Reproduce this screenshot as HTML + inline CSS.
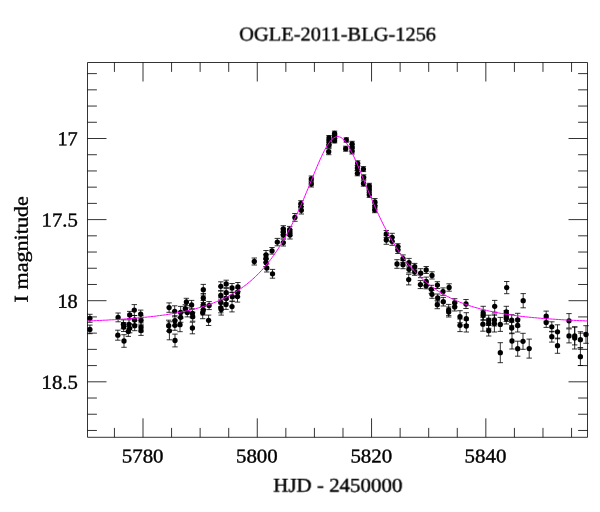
<!DOCTYPE html>
<html><head><meta charset="utf-8"><title>OGLE-2011-BLG-1256</title>
<style>html,body{margin:0;padding:0;background:#fff;overflow:hidden}body{width:600px;height:512px;font-family:"Liberation Serif",serif}</style>
</head><body>
<svg width="600" height="512" viewBox="0 0 600 512" style="display:block">
<rect x="0" y="0" width="600" height="512" fill="#fff"/>
<g stroke="#000" stroke-width="0.8" fill="none" stroke-linecap="butt">
<path d="M87.50 62.50H587.50V437.30H87.50Z"/>
<path d="M114.43 62.50v9.40M114.43 437.30v-9.40M143.00 62.50v19.00M143.00 437.30v-19.00M171.57 62.50v9.40M171.57 437.30v-9.40M200.14 62.50v9.40M200.14 437.30v-9.40M228.71 62.50v9.40M228.71 437.30v-9.40M257.28 62.50v19.00M257.28 437.30v-19.00M285.85 62.50v9.40M285.85 437.30v-9.40M314.42 62.50v9.40M314.42 437.30v-9.40M342.99 62.50v9.40M342.99 437.30v-9.40M371.56 62.50v19.00M371.56 437.30v-19.00M400.13 62.50v9.40M400.13 437.30v-9.40M428.70 62.50v9.40M428.70 437.30v-9.40M457.27 62.50v9.40M457.27 437.30v-9.40M485.84 62.50v19.00M485.84 437.30v-19.00M514.41 62.50v9.40M514.41 437.30v-9.40M542.98 62.50v9.40M542.98 437.30v-9.40M571.55 62.50v9.40M571.55 437.30v-9.40M87.50 73.62h9.40M587.50 73.62h-9.40M87.50 89.84h9.40M587.50 89.84h-9.40M87.50 106.06h9.40M587.50 106.06h-9.40M87.50 122.28h9.40M587.50 122.28h-9.40M87.50 138.50h19.00M587.50 138.50h-19.00M87.50 154.72h9.40M587.50 154.72h-9.40M87.50 170.94h9.40M587.50 170.94h-9.40M87.50 187.16h9.40M587.50 187.16h-9.40M87.50 203.38h9.40M587.50 203.38h-9.40M87.50 219.60h19.00M587.50 219.60h-19.00M87.50 235.82h9.40M587.50 235.82h-9.40M87.50 252.04h9.40M587.50 252.04h-9.40M87.50 268.26h9.40M587.50 268.26h-9.40M87.50 284.48h9.40M587.50 284.48h-9.40M87.50 300.70h19.00M587.50 300.70h-19.00M87.50 316.92h9.40M587.50 316.92h-9.40M87.50 333.14h9.40M587.50 333.14h-9.40M87.50 349.36h9.40M587.50 349.36h-9.40M87.50 365.58h9.40M587.50 365.58h-9.40M87.50 381.80h19.00M587.50 381.80h-19.00M87.50 398.02h9.40M587.50 398.02h-9.40M87.50 414.24h9.40M587.50 414.24h-9.40M87.50 430.46h9.40M587.50 430.46h-9.40"/>
</g>
<path d="M89.9 314.3V322.3M87.2 314.3h5.4M87.2 322.3h5.4M89.9 325.1V333.7M87.2 325.1h5.4M87.2 333.7h5.4M118.1 313.0V321.8M115.4 313.0h5.4M115.4 321.8h5.4M117.8 330.2V340.2M115.1 330.2h5.4M115.1 340.2h5.4M124.0 334.7V347.3M121.3 334.7h5.4M121.3 347.3h5.4M123.4 319.8V328.8M120.7 319.8h5.4M120.7 328.8h5.4M123.7 322.5V331.5M121.0 322.5h5.4M121.0 331.5h5.4M129.7 311.4V318.6M127.0 311.4h5.4M127.0 318.6h5.4M129.0 319.8V328.8M126.3 319.8h5.4M126.3 328.8h5.4M129.7 323.8V332.8M127.0 323.8h5.4M127.0 332.8h5.4M128.3 326.4V336.4M125.6 326.4h5.4M125.6 336.4h5.4M134.3 304.6V315.6M131.6 304.6h5.4M131.6 315.6h5.4M134.6 315.5V324.5M131.9 315.5h5.4M131.9 324.5h5.4M134.7 320.7V330.7M132.0 320.7h5.4M132.0 330.7h5.4M140.7 310.1V318.1M138.0 310.1h5.4M138.0 318.1h5.4M141.0 315.8V324.8M138.3 315.8h5.4M138.3 324.8h5.4M141.0 322.9V331.9M138.3 322.9h5.4M138.3 331.9h5.4M141.0 325.8V335.4M138.3 325.8h5.4M138.3 335.4h5.4M169.1 302.9V312.3M166.4 302.9h5.4M166.4 312.3h5.4M168.7 320.2V331.2M166.0 320.2h5.4M166.0 331.2h5.4M169.4 321.8V339.8M166.7 321.8h5.4M166.7 339.8h5.4M175.0 334.1V346.9M172.3 334.1h5.4M172.3 346.9h5.4M174.7 305.8V316.8M172.0 305.8h5.4M172.0 316.8h5.4M174.9 315.7V325.7M172.2 315.7h5.4M172.2 325.7h5.4M174.9 320.3V330.3M172.2 320.3h5.4M172.2 330.3h5.4M180.7 306.4V318.4M178.0 306.4h5.4M178.0 318.4h5.4M180.7 312.3V322.3M178.0 312.3h5.4M178.0 322.3h5.4M180.0 317.7V331.7M177.3 317.7h5.4M177.3 331.7h5.4M186.4 298.3V305.7M183.7 298.3h5.4M183.7 305.7h5.4M185.3 304.7V312.7M182.6 304.7h5.4M182.6 312.7h5.4M187.3 307.9V316.9M184.6 307.9h5.4M184.6 316.9h5.4M191.6 300.4V309.4M188.9 300.4h5.4M188.9 309.4h5.4M192.4 308.8V317.8M189.7 308.8h5.4M189.7 317.8h5.4M192.7 312.2V321.2M190.0 312.2h5.4M190.0 321.2h5.4M192.4 322.2V333.8M189.7 322.2h5.4M189.7 333.8h5.4M203.3 284.4V295.0M200.6 284.4h5.4M200.6 295.0h5.4M203.3 293.5V302.5M200.6 293.5h5.4M200.6 302.5h5.4M203.3 300.5V309.5M200.6 300.5h5.4M200.6 309.5h5.4M203.3 305.0V315.0M200.6 305.0h5.4M200.6 315.0h5.4M202.7 306.7V318.7M200.0 306.7h5.4M200.0 318.7h5.4M209.1 301.6V309.6M206.4 301.6h5.4M206.4 309.6h5.4M208.6 315.1V325.5M205.9 315.1h5.4M205.9 325.5h5.4M220.8 281.8V290.8M218.1 281.8h5.4M218.1 290.8h5.4M220.8 290.9V299.9M218.1 290.9h5.4M218.1 299.9h5.4M220.8 297.8V306.8M218.1 297.8h5.4M218.1 306.8h5.4M220.8 302.8V312.8M218.1 302.8h5.4M218.1 312.8h5.4M221.2 304.1V315.1M218.5 304.1h5.4M218.5 315.1h5.4M226.2 280.2V287.6M223.5 280.2h5.4M223.5 287.6h5.4M226.2 288.6V296.6M223.5 288.6h5.4M223.5 296.6h5.4M226.2 294.0V303.0M223.5 294.0h5.4M223.5 303.0h5.4M226.0 299.4V309.4M223.3 299.4h5.4M223.3 309.4h5.4M232.0 283.5V292.5M229.3 283.5h5.4M229.3 292.5h5.4M232.3 292.2V301.2M229.6 292.2h5.4M229.6 301.2h5.4M232.0 301.3V311.9M229.3 301.3h5.4M229.3 311.9h5.4M237.9 282.5V291.5M235.2 282.5h5.4M235.2 291.5h5.4M237.6 288.0V297.0M234.9 288.0h5.4M234.9 297.0h5.4M237.5 291.1V302.1M234.8 291.1h5.4M234.8 302.1h5.4M254.3 258.0V265.0M251.6 258.0h5.4M251.6 265.0h5.4M266.0 250.5V259.5M263.3 250.5h5.4M263.3 259.5h5.4M266.0 254.5V262.5M263.3 254.5h5.4M263.3 262.5h5.4M266.0 258.5V266.5M263.3 258.5h5.4M263.3 266.5h5.4M266.8 264.0V272.0M264.1 264.0h5.4M264.1 272.0h5.4M272.0 247.5V254.1M269.3 247.5h5.4M269.3 254.1h5.4M272.5 269.4V278.2M269.8 269.4h5.4M269.8 278.2h5.4M277.3 238.4V245.8M274.6 238.4h5.4M274.6 245.8h5.4M283.3 239.2V246.0M280.6 239.2h5.4M280.6 246.0h5.4M283.3 225.7V232.3M280.6 225.7h5.4M280.6 232.3h5.4M283.3 228.7V234.7M280.6 228.7h5.4M280.6 234.7h5.4M283.3 232.0V238.0M280.6 232.0h5.4M280.6 238.0h5.4M289.7 226.4V233.0M287.0 226.4h5.4M287.0 233.0h5.4M289.8 229.5V235.5M287.1 229.5h5.4M287.1 235.5h5.4M290.0 231.0V239.0M287.3 231.0h5.4M287.3 239.0h5.4M294.9 213.5V221.3M292.2 213.5h5.4M292.2 221.3h5.4M300.9 200.7V206.7M298.2 200.7h5.4M298.2 206.7h5.4M300.9 204.0V210.0M298.2 204.0h5.4M298.2 210.0h5.4M301.3 206.6V214.0M298.6 206.6h5.4M298.6 214.0h5.4M311.3 176.0V182.0M308.6 176.0h5.4M308.6 182.0h5.4M311.3 181.0V187.0M308.6 181.0h5.4M308.6 187.0h5.4M329.0 135.5V140.5M326.3 135.5h5.4M326.3 140.5h5.4M329.0 139.5V144.5M326.3 139.5h5.4M326.3 144.5h5.4M329.0 142.8V147.8M326.3 142.8h5.4M326.3 147.8h5.4M328.7 148.7V154.7M326.0 148.7h5.4M326.0 154.7h5.4M334.6 131.1V135.5M331.9 131.1h5.4M331.9 135.5h5.4M334.6 134.5V138.9M331.9 134.5h5.4M331.9 138.9h5.4M334.6 138.5V142.9M331.9 138.5h5.4M331.9 142.9h5.4M346.3 137.8V142.2M343.6 137.8h5.4M343.6 142.2h5.4M345.7 146.2V151.2M343.0 146.2h5.4M343.0 151.2h5.4M352.1 141.3V146.7M349.4 141.3h5.4M349.4 146.7h5.4M352.1 144.6V150.0M349.4 144.6h5.4M349.4 150.0h5.4M352.1 148.6V154.0M349.4 148.6h5.4M349.4 154.0h5.4M357.7 160.8V165.8M355.0 160.8h5.4M355.0 165.8h5.4M357.4 165.5V170.5M354.7 165.5h5.4M354.7 170.5h5.4M357.4 170.8V175.8M354.7 170.8h5.4M354.7 175.8h5.4M363.4 166.6V171.6M360.7 166.6h5.4M360.7 171.6h5.4M363.7 174.8V179.8M361.0 174.8h5.4M361.0 179.8h5.4M363.5 180.8V186.2M360.8 180.8h5.4M360.8 186.2h5.4M369.3 183.3V188.7M366.6 183.3h5.4M366.6 188.7h5.4M369.3 187.3V192.7M366.6 187.3h5.4M366.6 192.7h5.4M369.3 192.0V197.4M366.6 192.0h5.4M366.6 197.4h5.4M374.9 198.5V205.5M372.2 198.5h5.4M372.2 205.5h5.4M374.9 203.0V209.0M372.2 203.0h5.4M372.2 209.0h5.4M374.7 207.3V212.7M372.0 207.3h5.4M372.0 212.7h5.4M386.3 230.5V237.5M383.6 230.5h5.4M383.6 237.5h5.4M386.3 235.7V244.3M383.6 235.7h5.4M383.6 244.3h5.4M392.1 233.3V241.3M389.4 233.3h5.4M389.4 241.3h5.4M392.1 237.3V245.3M389.4 237.3h5.4M389.4 245.3h5.4M397.9 243.7V249.7M395.2 243.7h5.4M395.2 249.7h5.4M397.9 246.5V253.5M395.2 246.5h5.4M395.2 253.5h5.4M397.0 259.7V268.3M394.3 259.7h5.4M394.3 268.3h5.4M403.0 254.9V262.5M400.3 254.9h5.4M400.3 262.5h5.4M403.0 260.7V268.7M400.3 260.7h5.4M400.3 268.7h5.4M409.0 258.4V267.0M406.3 258.4h5.4M406.3 267.0h5.4M409.0 265.8V272.8M406.3 265.8h5.4M406.3 272.8h5.4M408.7 274.3V284.9M406.0 274.3h5.4M406.0 284.9h5.4M414.7 263.4V270.0M412.0 263.4h5.4M412.0 270.0h5.4M414.7 268.7V275.3M412.0 268.7h5.4M412.0 275.3h5.4M420.7 268.7V277.7M418.0 268.7h5.4M418.0 277.7h5.4M426.2 266.5V273.5M423.5 266.5h5.4M423.5 273.5h5.4M432.0 271.8V279.0M429.3 271.8h5.4M429.3 279.0h5.4M420.4 280.6V288.6M417.7 280.6h5.4M417.7 288.6h5.4M426.2 277.1V285.5M423.5 277.1h5.4M423.5 285.5h5.4M426.1 282.8V288.8M423.4 282.8h5.4M423.4 288.8h5.4M437.4 281.7V288.5M434.7 281.7h5.4M434.7 288.5h5.4M431.3 285.3V293.3M428.6 285.3h5.4M428.6 293.3h5.4M432.0 290.3V298.3M429.3 290.3h5.4M429.3 298.3h5.4M449.1 283.8V291.2M446.4 283.8h5.4M446.4 291.2h5.4M443.0 287.9V295.3M440.3 287.9h5.4M440.3 295.3h5.4M437.7 294.0V302.0M435.0 294.0h5.4M435.0 302.0h5.4M437.3 300.7V308.7M434.6 300.7h5.4M434.6 308.7h5.4M443.3 297.4V306.0M440.6 297.4h5.4M440.6 306.0h5.4M454.7 298.7V306.7M452.0 298.7h5.4M452.0 306.7h5.4M454.7 303.0V311.0M452.0 303.0h5.4M452.0 311.0h5.4M448.7 304.4V315.6M446.0 304.4h5.4M446.0 315.6h5.4M448.7 307.0V317.0M446.0 307.0h5.4M446.0 317.0h5.4M466.0 299.5V308.5M463.3 299.5h5.4M463.3 308.5h5.4M460.0 310.7V322.7M457.3 310.7h5.4M457.3 322.7h5.4M460.0 319.0V331.6M457.3 319.0h5.4M457.3 331.6h5.4M466.3 312.7V324.7M463.6 312.7h5.4M463.6 324.7h5.4M466.3 320.0V332.0M463.6 320.0h5.4M463.6 332.0h5.4M483.2 306.3V319.7M480.5 306.3h5.4M480.5 319.7h5.4M483.2 310.3V320.3M480.5 310.3h5.4M480.5 320.3h5.4M482.9 317.2V331.2M480.2 317.2h5.4M480.2 331.2h5.4M488.7 315.2V325.2M486.0 315.2h5.4M486.0 325.2h5.4M488.7 318.3V328.3M486.0 318.3h5.4M486.0 328.3h5.4M488.7 325.4V336.0M486.0 325.4h5.4M486.0 336.0h5.4M494.7 300.4V312.2M492.0 300.4h5.4M492.0 312.2h5.4M494.4 314.0V326.0M491.7 314.0h5.4M491.7 326.0h5.4M494.4 315.2V332.0M491.7 315.2h5.4M491.7 332.0h5.4M500.3 317.4V331.4M497.6 317.4h5.4M497.6 331.4h5.4M500.3 342.7V362.7M497.6 342.7h5.4M497.6 362.7h5.4M506.7 281.5V293.7M504.0 281.5h5.4M504.0 293.7h5.4M506.3 306.3V317.7M503.6 306.3h5.4M503.6 317.7h5.4M506.3 310.5V321.5M503.6 310.5h5.4M503.6 321.5h5.4M506.3 313.4V324.0M503.6 313.4h5.4M503.6 324.0h5.4M511.7 314.7V325.7M509.0 314.7h5.4M509.0 325.7h5.4M511.7 322.3V333.7M509.0 322.3h5.4M509.0 333.7h5.4M512.0 333.0V349.0M509.3 333.0h5.4M509.3 349.0h5.4M517.7 313.3V326.7M515.0 313.3h5.4M515.0 326.7h5.4M517.7 319.0V332.0M515.0 319.0h5.4M515.0 332.0h5.4M517.7 341.2V356.2M515.0 341.2h5.4M515.0 356.2h5.4M523.2 293.6V307.8M520.5 293.6h5.4M520.5 307.8h5.4M523.0 333.3V349.3M520.3 333.3h5.4M520.3 349.3h5.4M529.2 339.1V358.1M526.5 339.1h5.4M526.5 358.1h5.4M546.2 311.1V321.1M543.5 311.1h5.4M543.5 321.1h5.4M546.2 317.8V327.4M543.5 317.8h5.4M543.5 327.4h5.4M551.8 321.8V331.8M549.1 321.8h5.4M549.1 331.8h5.4M551.8 331.3V342.1M549.1 331.3h5.4M549.1 342.1h5.4M557.5 324.8V338.8M554.8 324.8h5.4M554.8 338.8h5.4M557.5 338.1V353.3M554.8 338.1h5.4M554.8 353.3h5.4M569.0 313.6V328.0M566.3 313.6h5.4M566.3 328.0h5.4M569.0 328.9V342.9M566.3 328.9h5.4M566.3 342.9h5.4M574.7 326.9V344.9M572.0 326.9h5.4M572.0 344.9h5.4M574.7 327.0V349.0M572.0 327.0h5.4M572.0 349.0h5.4M580.4 331.7V347.7M577.7 331.7h5.4M577.7 347.7h5.4M580.4 347.9V365.5M577.7 347.9h5.4M577.7 365.5h5.4M586.0 325.7V343.3M583.3 325.7h5.4M583.3 343.3h5.4" stroke="#000" stroke-width="0.8" fill="none"/>
<g fill="#000">
<circle cx="89.9" cy="318.3" r="2.65"/>
<circle cx="89.9" cy="329.4" r="2.65"/>
<circle cx="118.1" cy="317.4" r="2.65"/>
<circle cx="117.8" cy="335.2" r="2.65"/>
<circle cx="124.0" cy="341.0" r="2.65"/>
<circle cx="123.4" cy="324.3" r="2.65"/>
<circle cx="123.7" cy="327.0" r="2.65"/>
<circle cx="129.7" cy="315.0" r="2.65"/>
<circle cx="129.0" cy="324.3" r="2.65"/>
<circle cx="129.7" cy="328.3" r="2.65"/>
<circle cx="128.3" cy="331.4" r="2.65"/>
<circle cx="134.3" cy="310.1" r="2.65"/>
<circle cx="134.6" cy="320.0" r="2.65"/>
<circle cx="134.7" cy="325.7" r="2.65"/>
<circle cx="140.7" cy="314.1" r="2.65"/>
<circle cx="141.0" cy="320.3" r="2.65"/>
<circle cx="141.0" cy="327.4" r="2.65"/>
<circle cx="141.0" cy="330.6" r="2.65"/>
<circle cx="169.1" cy="307.6" r="2.65"/>
<circle cx="168.7" cy="325.7" r="2.65"/>
<circle cx="169.4" cy="330.8" r="2.65"/>
<circle cx="175.0" cy="340.5" r="2.65"/>
<circle cx="174.7" cy="311.3" r="2.65"/>
<circle cx="174.9" cy="320.7" r="2.65"/>
<circle cx="174.9" cy="325.3" r="2.65"/>
<circle cx="180.7" cy="312.4" r="2.65"/>
<circle cx="180.7" cy="317.3" r="2.65"/>
<circle cx="180.0" cy="324.7" r="2.65"/>
<circle cx="186.4" cy="302.0" r="2.65"/>
<circle cx="185.3" cy="308.7" r="2.65"/>
<circle cx="187.3" cy="312.4" r="2.65"/>
<circle cx="191.6" cy="304.9" r="2.65"/>
<circle cx="192.4" cy="313.3" r="2.65"/>
<circle cx="192.7" cy="316.7" r="2.65"/>
<circle cx="192.4" cy="328.0" r="2.65"/>
<circle cx="203.3" cy="289.7" r="2.65"/>
<circle cx="203.3" cy="298.0" r="2.65"/>
<circle cx="203.3" cy="305.0" r="2.65"/>
<circle cx="203.3" cy="310.0" r="2.65"/>
<circle cx="202.7" cy="312.7" r="2.65"/>
<circle cx="209.1" cy="305.6" r="2.65"/>
<circle cx="208.6" cy="320.3" r="2.65"/>
<circle cx="220.8" cy="286.3" r="2.65"/>
<circle cx="220.8" cy="295.4" r="2.65"/>
<circle cx="220.8" cy="302.3" r="2.65"/>
<circle cx="220.8" cy="307.8" r="2.65"/>
<circle cx="221.2" cy="309.6" r="2.65"/>
<circle cx="226.2" cy="283.9" r="2.65"/>
<circle cx="226.2" cy="292.6" r="2.65"/>
<circle cx="226.2" cy="298.5" r="2.65"/>
<circle cx="226.0" cy="304.4" r="2.65"/>
<circle cx="232.0" cy="288.0" r="2.65"/>
<circle cx="232.3" cy="296.7" r="2.65"/>
<circle cx="232.0" cy="306.6" r="2.65"/>
<circle cx="237.9" cy="287.0" r="2.65"/>
<circle cx="237.6" cy="292.5" r="2.65"/>
<circle cx="237.5" cy="296.6" r="2.65"/>
<circle cx="254.3" cy="261.5" r="2.65"/>
<circle cx="266.0" cy="255.0" r="2.65"/>
<circle cx="266.0" cy="258.5" r="2.65"/>
<circle cx="266.0" cy="262.5" r="2.65"/>
<circle cx="266.8" cy="268.0" r="2.65"/>
<circle cx="272.0" cy="250.8" r="2.65"/>
<circle cx="272.5" cy="273.8" r="2.65"/>
<circle cx="277.3" cy="242.1" r="2.65"/>
<circle cx="283.3" cy="242.6" r="2.65"/>
<circle cx="283.3" cy="229.0" r="2.65"/>
<circle cx="283.3" cy="231.7" r="2.65"/>
<circle cx="283.3" cy="235.0" r="2.65"/>
<circle cx="289.7" cy="229.7" r="2.65"/>
<circle cx="289.8" cy="232.5" r="2.65"/>
<circle cx="290.0" cy="235.0" r="2.65"/>
<circle cx="294.9" cy="217.4" r="2.65"/>
<circle cx="300.9" cy="203.7" r="2.65"/>
<circle cx="300.9" cy="207.0" r="2.65"/>
<circle cx="301.3" cy="210.3" r="2.65"/>
<circle cx="311.3" cy="179.0" r="2.65"/>
<circle cx="311.3" cy="184.0" r="2.65"/>
<circle cx="329.0" cy="138.0" r="2.65"/>
<circle cx="329.0" cy="142.0" r="2.65"/>
<circle cx="329.0" cy="145.3" r="2.65"/>
<circle cx="328.7" cy="151.7" r="2.65"/>
<circle cx="334.6" cy="133.3" r="2.65"/>
<circle cx="334.6" cy="136.7" r="2.65"/>
<circle cx="334.6" cy="140.7" r="2.65"/>
<circle cx="346.3" cy="140.0" r="2.65"/>
<circle cx="345.7" cy="148.7" r="2.65"/>
<circle cx="352.1" cy="144.0" r="2.65"/>
<circle cx="352.1" cy="147.3" r="2.65"/>
<circle cx="352.1" cy="151.3" r="2.65"/>
<circle cx="357.7" cy="163.3" r="2.65"/>
<circle cx="357.4" cy="168.0" r="2.65"/>
<circle cx="357.4" cy="173.3" r="2.65"/>
<circle cx="363.4" cy="169.1" r="2.65"/>
<circle cx="363.7" cy="177.3" r="2.65"/>
<circle cx="363.5" cy="183.5" r="2.65"/>
<circle cx="369.3" cy="186.0" r="2.65"/>
<circle cx="369.3" cy="190.0" r="2.65"/>
<circle cx="369.3" cy="194.7" r="2.65"/>
<circle cx="374.9" cy="202.0" r="2.65"/>
<circle cx="374.9" cy="206.0" r="2.65"/>
<circle cx="374.7" cy="210.0" r="2.65"/>
<circle cx="386.3" cy="234.0" r="2.65"/>
<circle cx="386.3" cy="240.0" r="2.65"/>
<circle cx="392.1" cy="237.3" r="2.65"/>
<circle cx="392.1" cy="241.3" r="2.65"/>
<circle cx="397.9" cy="246.7" r="2.65"/>
<circle cx="397.9" cy="250.0" r="2.65"/>
<circle cx="397.0" cy="264.0" r="2.65"/>
<circle cx="403.0" cy="258.7" r="2.65"/>
<circle cx="403.0" cy="264.7" r="2.65"/>
<circle cx="409.0" cy="262.7" r="2.65"/>
<circle cx="409.0" cy="269.3" r="2.65"/>
<circle cx="408.7" cy="279.6" r="2.65"/>
<circle cx="414.7" cy="266.7" r="2.65"/>
<circle cx="414.7" cy="272.0" r="2.65"/>
<circle cx="420.7" cy="273.2" r="2.65"/>
<circle cx="426.2" cy="270.0" r="2.65"/>
<circle cx="432.0" cy="275.4" r="2.65"/>
<circle cx="420.4" cy="284.6" r="2.65"/>
<circle cx="426.2" cy="281.3" r="2.65"/>
<circle cx="426.1" cy="285.8" r="2.65"/>
<circle cx="437.4" cy="285.1" r="2.65"/>
<circle cx="431.3" cy="289.3" r="2.65"/>
<circle cx="432.0" cy="294.3" r="2.65"/>
<circle cx="449.1" cy="287.5" r="2.65"/>
<circle cx="443.0" cy="291.6" r="2.65"/>
<circle cx="437.7" cy="298.0" r="2.65"/>
<circle cx="437.3" cy="304.7" r="2.65"/>
<circle cx="443.3" cy="301.7" r="2.65"/>
<circle cx="454.7" cy="302.7" r="2.65"/>
<circle cx="454.7" cy="307.0" r="2.65"/>
<circle cx="448.7" cy="310.0" r="2.65"/>
<circle cx="448.7" cy="312.0" r="2.65"/>
<circle cx="466.0" cy="304.0" r="2.65"/>
<circle cx="460.0" cy="316.7" r="2.65"/>
<circle cx="460.0" cy="325.3" r="2.65"/>
<circle cx="466.3" cy="318.7" r="2.65"/>
<circle cx="466.3" cy="326.0" r="2.65"/>
<circle cx="483.2" cy="313.0" r="2.65"/>
<circle cx="483.2" cy="315.3" r="2.65"/>
<circle cx="482.9" cy="324.2" r="2.65"/>
<circle cx="488.7" cy="320.2" r="2.65"/>
<circle cx="488.7" cy="323.3" r="2.65"/>
<circle cx="488.7" cy="330.7" r="2.65"/>
<circle cx="494.7" cy="306.3" r="2.65"/>
<circle cx="494.4" cy="320.0" r="2.65"/>
<circle cx="494.4" cy="323.6" r="2.65"/>
<circle cx="500.3" cy="324.4" r="2.65"/>
<circle cx="500.3" cy="352.7" r="2.65"/>
<circle cx="506.7" cy="287.6" r="2.65"/>
<circle cx="506.3" cy="312.0" r="2.65"/>
<circle cx="506.3" cy="316.0" r="2.65"/>
<circle cx="506.3" cy="318.7" r="2.65"/>
<circle cx="511.7" cy="320.2" r="2.65"/>
<circle cx="511.7" cy="328.0" r="2.65"/>
<circle cx="512.0" cy="341.0" r="2.65"/>
<circle cx="517.7" cy="320.0" r="2.65"/>
<circle cx="517.7" cy="325.5" r="2.65"/>
<circle cx="517.7" cy="348.7" r="2.65"/>
<circle cx="523.2" cy="300.7" r="2.65"/>
<circle cx="523.0" cy="341.3" r="2.65"/>
<circle cx="529.2" cy="348.6" r="2.65"/>
<circle cx="546.2" cy="316.1" r="2.65"/>
<circle cx="546.2" cy="322.6" r="2.65"/>
<circle cx="551.8" cy="326.8" r="2.65"/>
<circle cx="551.8" cy="336.7" r="2.65"/>
<circle cx="557.5" cy="331.8" r="2.65"/>
<circle cx="557.5" cy="345.7" r="2.65"/>
<circle cx="569.0" cy="320.8" r="2.65"/>
<circle cx="569.0" cy="335.9" r="2.65"/>
<circle cx="574.7" cy="335.9" r="2.65"/>
<circle cx="574.7" cy="338.0" r="2.65"/>
<circle cx="580.4" cy="339.7" r="2.65"/>
<circle cx="580.4" cy="356.7" r="2.65"/>
<circle cx="586.0" cy="334.5" r="2.65"/>
</g>
<path d="M87.5 321.0L89.0 320.9L90.5 320.8L92.0 320.8L93.5 320.7L95.0 320.7L96.5 320.6L98.0 320.5L99.5 320.5L101.0 320.4L102.5 320.3L104.0 320.2L105.5 320.2L107.0 320.1L108.5 320.0L110.0 319.9L111.5 319.8L113.0 319.8L114.5 319.7L116.0 319.6L117.5 319.5L119.0 319.4L120.5 319.3L122.0 319.2L123.5 319.1L125.0 319.0L126.5 318.9L128.0 318.8L129.5 318.7L131.0 318.5L132.5 318.4L134.0 318.3L135.5 318.2L137.0 318.0L138.5 317.9L140.0 317.8L141.5 317.6L143.0 317.5L144.5 317.3L146.0 317.2L147.5 317.0L149.0 316.9L150.5 316.7L152.0 316.5L153.5 316.4L155.0 316.2L156.5 316.0L158.0 315.8L159.5 315.6L161.0 315.4L162.5 315.2L164.0 315.0L165.5 314.8L167.0 314.6L168.5 314.3L170.0 314.1L171.5 313.8L173.0 313.6L174.5 313.3L176.0 313.1L177.5 312.8L179.0 312.5L180.5 312.2L182.0 311.9L183.5 311.6L185.0 311.3L186.5 310.9L188.0 310.6L189.5 310.3L191.0 309.9L192.5 309.5L194.0 309.1L195.5 308.8L197.0 308.3L198.5 307.9L200.0 307.5L201.5 307.0L203.0 306.6L204.5 306.1L206.0 305.6L207.5 305.1L209.0 304.6L210.5 304.1L212.0 303.5L213.5 302.9L215.0 302.3L216.5 301.7L218.0 301.1L219.5 300.4L221.0 299.8L222.5 299.1L224.0 298.4L225.5 297.6L227.0 296.9L228.5 296.1L230.0 295.3L231.5 294.4L233.0 293.6L234.5 292.7L236.0 291.7L237.5 290.8L239.0 289.8L240.5 288.8L242.0 287.7L243.5 286.6L245.0 285.5L246.5 284.4L248.0 283.2L249.5 281.9L251.0 280.7L252.5 279.3L254.0 278.0L255.5 276.6L257.0 275.1L258.5 273.6L260.0 272.1L261.5 270.5L263.0 268.8L264.5 267.1L266.0 265.3L267.5 263.5L269.0 261.6L270.5 259.7L272.0 257.7L273.5 255.6L275.0 253.5L276.5 251.3L278.0 249.0L279.5 246.7L281.0 244.3L282.5 241.8L284.0 239.3L285.5 236.7L287.0 234.0L288.5 231.2L290.0 228.3L291.5 225.4L293.0 222.4L294.5 219.3L296.0 216.2L297.5 212.9L299.0 209.6L300.5 206.3L302.0 202.9L303.5 199.4L305.0 195.8L306.5 192.2L308.0 188.6L309.5 184.9L311.0 181.3L312.5 177.6L314.0 173.9L315.5 170.3L317.0 166.7L318.5 163.2L320.0 159.8L321.5 156.5L323.0 153.3L324.5 150.4L326.0 147.6L327.5 145.1L329.0 142.9L330.5 140.9L332.0 139.3L333.5 138.1L335.0 137.2L336.5 136.7L338.0 136.6L339.5 136.9L341.0 137.5L342.5 138.6L344.0 140.0L345.5 141.8L347.0 143.9L348.5 146.3L350.0 148.9L351.5 151.8L353.0 154.8L354.5 158.0L356.0 161.4L357.5 164.9L359.0 168.4L360.5 172.0L362.0 175.7L363.5 179.4L365.0 183.0L366.5 186.7L368.0 190.3L369.5 194.0L371.0 197.5L372.5 201.0L374.0 204.5L375.5 207.9L377.0 211.2L378.5 214.5L380.0 217.7L381.5 220.8L383.0 223.9L384.5 226.8L386.0 229.7L387.5 232.5L389.0 235.3L390.5 237.9L392.0 240.5L393.5 243.0L395.0 245.5L396.5 247.8L398.0 250.1L399.5 252.4L401.0 254.5L402.5 256.6L404.0 258.7L405.5 260.6L407.0 262.5L408.5 264.4L410.0 266.2L411.5 267.9L413.0 269.6L414.5 271.2L416.0 272.8L417.5 274.3L419.0 275.8L420.5 277.2L422.0 278.6L423.5 280.0L425.0 281.3L426.5 282.5L428.0 283.7L429.5 284.9L431.0 286.1L432.5 287.2L434.0 288.2L435.5 289.3L437.0 290.3L438.5 291.3L440.0 292.2L441.5 293.1L443.0 294.0L444.5 294.8L446.0 295.7L447.5 296.5L449.0 297.2L450.5 298.0L452.0 298.7L453.5 299.4L455.0 300.1L456.5 300.8L458.0 301.4L459.5 302.0L461.0 302.6L462.5 303.2L464.0 303.8L465.5 304.3L467.0 304.8L468.5 305.4L470.0 305.9L471.5 306.3L473.0 306.8L474.5 307.3L476.0 307.7L477.5 308.1L479.0 308.5L480.5 308.9L482.0 309.3L483.5 309.7L485.0 310.1L486.5 310.4L488.0 310.8L489.5 311.1L491.0 311.4L492.5 311.7L494.0 312.1L495.5 312.4L497.0 312.6L498.5 312.9L500.0 313.2L501.5 313.5L503.0 313.7L504.5 314.0L506.0 314.2L507.5 314.4L509.0 314.7L510.5 314.9L512.0 315.1L513.5 315.3L515.0 315.5L516.5 315.7L518.0 315.9L519.5 316.1L521.0 316.3L522.5 316.5L524.0 316.6L525.5 316.8L527.0 317.0L528.5 317.1L530.0 317.3L531.5 317.4L533.0 317.6L534.5 317.7L536.0 317.8L537.5 318.0L539.0 318.1L540.5 318.2L542.0 318.4L543.5 318.5L545.0 318.6L546.5 318.7L548.0 318.8L549.5 318.9L551.0 319.0L552.5 319.1L554.0 319.2L555.5 319.3L557.0 319.4L558.5 319.5L560.0 319.6L561.5 319.7L563.0 319.8L564.5 319.9L566.0 320.0L567.5 320.0L569.0 320.1L570.5 320.2L572.0 320.3L573.5 320.3L575.0 320.4L576.5 320.5L578.0 320.6L579.5 320.6L581.0 320.7L582.5 320.7L584.0 320.8L585.5 320.9L587.0 320.9L587.5 320.9" fill="none" stroke="#ff00ff" stroke-width="1"/>
<g font-family="Liberation Serif, serif" font-size="19.7" fill="#000" stroke="#000" stroke-width="0.4" style="will-change:transform;opacity:0.999;text-rendering:geometricPrecision"><text id="title" transform="rotate(0.05 337.8 40.6) translate(239.25 40.60)" textLength="196.86" lengthAdjust="spacingAndGlyphs">OGLE-2011-BLG-1256</text><text id="xlabel" transform="rotate(0.05 337.9 491.8) translate(273.25 491.75)" textLength="129.26" lengthAdjust="spacingAndGlyphs">HJD - 2450000</text><text id="y17" transform="rotate(0.05 68.1 145.3) translate(57.40 145.30)" textLength="20.32" lengthAdjust="spacingAndGlyphs">17</text><text id="y175" transform="rotate(0.05 60.2 226.5) translate(41.60 226.50)" textLength="36.32" lengthAdjust="spacingAndGlyphs">17.5</text><text id="y18" transform="rotate(0.05 68.1 307.8) translate(57.40 307.80)" textLength="20.36" lengthAdjust="spacingAndGlyphs">18</text><text id="y185" transform="rotate(0.05 60.2 388.8) translate(41.60 388.80)" textLength="36.32" lengthAdjust="spacingAndGlyphs">18.5</text><text id="x5780" transform="rotate(0.05 142.9 462.5) translate(121.80 462.50)" textLength="41.76" lengthAdjust="spacingAndGlyphs">5780</text><text id="x5800" transform="rotate(0.05 257.2 462.5) translate(235.98 462.50)" textLength="41.76" lengthAdjust="spacingAndGlyphs">5800</text><text id="x5820" transform="rotate(0.05 371.5 462.5) translate(350.41 462.50)" textLength="41.76" lengthAdjust="spacingAndGlyphs">5820</text><text id="x5840" transform="rotate(0.05 485.7 462.5) translate(464.59 462.50)" textLength="41.76" lengthAdjust="spacingAndGlyphs">5840</text><text id="ylabel" transform="translate(27.70 302.50) rotate(-89.95)" textLength="106.41" lengthAdjust="spacingAndGlyphs">I magnitude</text></g>
</svg>
</body></html>
